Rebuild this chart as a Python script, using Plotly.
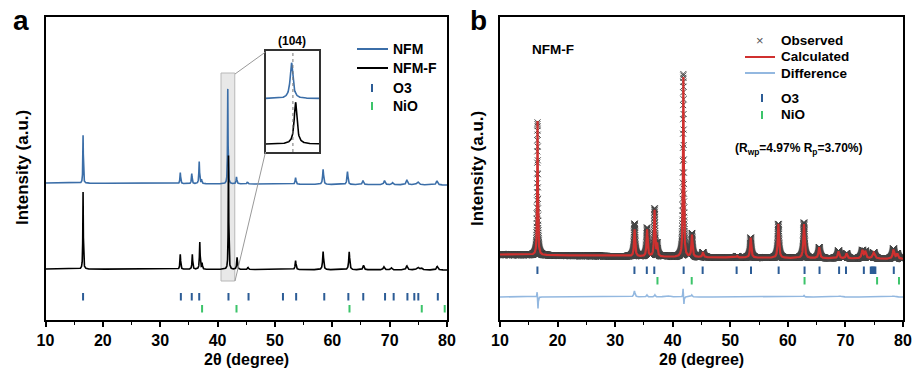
import numpy as np
import plotly.graph_objects as go

W, H = 916, 372
FONT = "Arial, Liberation Sans, sans-serif"

# ---------------- data ----------------
two_theta = np.round(np.arange(10, 80.0001, 0.01), 2)

# Panel a : NFM (blue) peak table  (position 2θ, intensity above background, HWHM)
nfm_pos = [16.55, 33.5, 35.5, 36.8, 37.2, 41.78, 43.3, 45.2, 53.6, 58.4, 62.65, 65.35, 69.1, 70.5, 73.0, 74.9, 78.25]
nfm_int = [48, 11, 10, 22, 4, 95, 7, 2, 6.5, 15, 13, 4, 4, 2, 5, 3, 4]
nfm_wid = [0.05, 0.07, 0.07, 0.07, 0.07, 0.05, 0.08, 0.09, 0.09, 0.1, 0.1, 0.12, 0.14, 0.14, 0.14, 0.22, 0.15]
nfm_bg_x = [10, 80]
nfm_bg_y = [137, 135]

# Panel a : NFM-F (black) peak table
nfmf_pos = [16.55, 33.5, 35.6, 36.9, 37.3, 41.90, 43.4, 45.3, 53.6, 58.4, 62.95, 65.45, 69.0, 70.3, 73.0, 74.9, 75.5, 78.3]
nfmf_int = [77, 15, 15, 27, 6, 114, 12, 2, 9, 18, 18, 4.5, 3, 2, 4, 2.5, 2, 3.5]
nfmf_wid = [0.05, 0.07, 0.07, 0.07, 0.07, 0.05, 0.08, 0.09, 0.09, 0.1, 0.1, 0.12, 0.14, 0.14, 0.14, 0.22, 0.17, 0.15]
nfmf_bg_x = [10, 80]
nfmf_bg_y = [51, 50]

# Panel a : reflection markers
a_o3_pos = [16.55, 33.6, 35.5, 36.8, 41.9, 45.4, 51.4, 53.7, 58.6, 62.8, 65.4, 69.2, 70.7, 73.1, 74.3, 75.0, 78.4]
a_nio_pos = [37.3, 43.3, 63.0, 75.6, 79.6]

# Panel b : calculated profile peak table
b_pos = [16.52, 33.38, 35.55, 36.85, 37.3, 41.85, 43.35, 45.25, 51.2, 53.55, 58.35, 62.8, 65.45, 68.8, 70.2, 72.95, 73.45, 74.9, 78.35, 79.0]
b_int = [134, 27, 27, 46, 12, 180, 22, 5, 1.5, 20, 34, 34, 11, 7, 5, 8, 7, 6, 9, 5]
b_wid = [0.07, 0.11, 0.11, 0.1, 0.1, 0.08, 0.11, 0.12, 0.12, 0.12, 0.12, 0.13, 0.14, 0.15, 0.15, 0.16, 0.16, 0.22, 0.16, 0.16]
b_bg_x = [10, 40, 80]
b_bg_y = [65.5, 63, 61]

# Panel b : difference curve features (position, signed amplitude, HWHM)
diff_pos = [16.45, 16.6, 33.35, 35.5, 36.9, 39.0, 41.8, 41.95, 43.3, 62.8, 69.0, 78.3]
diff_amp = [6, -12, 6, 2, 2, 1.5, 9, -8, 2, 1.5, 1, 1]
diff_wid = [0.05, 0.05, 0.12, 0.1, 0.1, 0.5, 0.05, 0.05, 0.1, 0.1, 0.3, 0.3]
diff_base = 23

# Panel b : reflection markers
b_o3_pos = [16.5, 33.35, 35.5, 36.8, 41.9, 45.2, 51.1, 53.6, 58.4, 62.9, 65.5, 68.9, 70.1, 73.2, 74.4, 74.6, 74.8, 75.0, 75.2, 78.4]
b_nio_pos = [37.35, 43.3, 62.9, 75.5, 79.3]

inset_range = [41.0, 42.6]
inset_ref = 41.82


def profile(pos, inten, wid, bgx, bgy):
    y = np.interp(two_theta, bgx, bgy).astype(float)
    for p, h, w in zip(pos, inten, wid):
        y += h / (1 + ((two_theta - p) / w) ** 2)
    return y


nfm = profile(nfm_pos, nfm_int, nfm_wid, nfm_bg_x, nfm_bg_y)
nfmf = profile(nfmf_pos, nfmf_int, nfmf_wid, nfmf_bg_x, nfmf_bg_y)
calc = profile(b_pos, b_int, b_wid, b_bg_x, b_bg_y)
diff = profile(diff_pos, diff_amp, diff_wid, [10, 80], [diff_base, diff_base])
obs = calc + (diff - diff_base)


def ticks(pos, y0, y1):
    xs, ys = [], []
    for p in pos:
        xs += [p, p, None]
        ys += [y0, y1, None]
    return xs, ys


BLUE = "#3b6ea8"
O3C = "#2c5c96"
NIOC = "#3cc46a"
RED = "#d0302f"
DIFFC = "#93b8e0"

fig = go.Figure()

# ---- panel a
fig.add_trace(go.Scatter(x=two_theta, y=nfm, mode="lines", line=dict(color=BLUE, width=1.6), xaxis="x", yaxis="y"))
fig.add_trace(go.Scatter(x=two_theta, y=nfmf, mode="lines", line=dict(color="black", width=1.6), xaxis="x", yaxis="y"))
tx, ty = ticks(a_o3_pos, 19.5, 27)
fig.add_trace(go.Scatter(x=tx, y=ty, mode="lines", line=dict(color=O3C, width=2), xaxis="x", yaxis="y"))
tx, ty = ticks(a_nio_pos, 7.5, 15)
fig.add_trace(go.Scatter(x=tx, y=ty, mode="lines", line=dict(color=NIOC, width=2), xaxis="x", yaxis="y"))

# ---- inset
m = (two_theta >= inset_range[0]) & (two_theta <= inset_range[1])
bg_a = np.interp(two_theta[m], nfm_bg_x, nfm_bg_y)
bg_b = np.interp(two_theta[m], nfmf_bg_x, nfmf_bg_y)
fig.add_trace(go.Scatter(x=two_theta[m], y=(nfm[m] - bg_a) * 0.38 + 54, mode="lines",
                         line=dict(color=BLUE, width=1.6), xaxis="x3", yaxis="y3"))
fig.add_trace(go.Scatter(x=two_theta[m], y=(nfmf[m] - bg_b) * 0.37 + 8, mode="lines",
                         line=dict(color="black", width=1.6), xaxis="x3", yaxis="y3"))

# ---- panel b
fig.add_trace(go.Scatter(x=two_theta, y=obs, mode="markers",
                         marker=dict(symbol="x-thin", size=6, line=dict(color="#444444", width=1)),
                         xaxis="x2", yaxis="y2"))
fig.add_trace(go.Scatter(x=two_theta, y=calc, mode="lines", line=dict(color=RED, width=2.2), xaxis="x2", yaxis="y2"))
fig.add_trace(go.Scatter(x=two_theta, y=diff, mode="lines", line=dict(color=DIFFC, width=1.6), xaxis="x2", yaxis="y2"))
tx, ty = ticks(b_o3_pos, 46, 53.5)
fig.add_trace(go.Scatter(x=tx, y=ty, mode="lines", line=dict(color=O3C, width=2), xaxis="x2", yaxis="y2"))
tx, ty = ticks(b_nio_pos, 35.5, 43)
fig.add_trace(go.Scatter(x=tx, y=ty, mode="lines", line=dict(color=NIOC, width=2), xaxis="x2", yaxis="y2"))


def px(x):
    return x / W


def py(y):
    return 1 - y / H


xa = dict(range=[10, 80], tickvals=list(range(10, 81, 10)), ticks="outside", ticklen=5, tickwidth=1.5,
          tickcolor="black", showline=True, linecolor="black", linewidth=1.6, mirror=True,
          tickfont=dict(family=FONT, size=16, color="black", weight="bold"),
          minor=dict(tickvals=list(range(15, 80, 10)), ticks="outside", ticklen=3, tickwidth=1.2, tickcolor="black"),
          showgrid=False, zeroline=False, automargin=False, fixedrange=True)
ya = dict(range=[0, 303], showticklabels=False, ticks="", showline=True, linecolor="black", linewidth=1.6,
          mirror=True, showgrid=False, zeroline=False, automargin=False)

fig.update_layout(
    width=W, height=H, margin=dict(l=0, r=0, t=0, b=0),
    paper_bgcolor="white", plot_bgcolor="white", showlegend=False,
    xaxis=dict(domain=[px(45.5), px(447)], anchor="y", **xa),
    yaxis=dict(domain=[py(320), py(17)], anchor="x", **ya),
    xaxis2=dict(domain=[px(500), px(903)], anchor="y2", **xa),
    yaxis2=dict(domain=[py(320), py(17)], anchor="x2", **ya),
    xaxis3=dict(domain=[px(265.5), px(319)], anchor="y3", range=inset_range, showticklabels=False, ticks="",
                showline=True, linecolor="#333", linewidth=1.5, mirror=True, showgrid=False, zeroline=False),
    yaxis3=dict(domain=[py(152), py(51)], anchor="x3", range=[0, 102], showticklabels=False, ticks="",
                showline=True, linecolor="#333", linewidth=1.5, mirror=True, showgrid=False, zeroline=False),
)

shapes = []
# shaded zoom window in panel a
shapes.append(dict(type="rect", xref="x", yref="y", x0=40.6, x1=43.0, y0=39, y1=247,
                   fillcolor="rgba(190,190,190,0.35)", line=dict(color="#b8b8b8", width=1), layer="below"))
# connector lines
shapes.append(dict(type="line", xref="paper", yref="paper", x0=px(235), y0=py(74), x1=px(265.5), y1=py(52),
                   line=dict(color="#999", width=1)))
shapes.append(dict(type="line", xref="paper", yref="paper", x0=px(235), y0=py(281), x1=px(265.5), y1=py(152),
                   line=dict(color="#999", width=1)))
# dotted reference line in inset
shapes.append(dict(type="line", xref="x3", yref="y3 domain", x0=inset_ref, x1=inset_ref, y0=0, y1=1,
                   line=dict(color="#777", width=1, dash="dot")))

# legend symbols panel a
leg_a = [("NFM", 49), ("NFM-F", 68), ("O3", 88), ("NiO", 106)]
shapes.append(dict(type="line", xref="paper", yref="paper", x0=px(357), x1=px(388), y0=py(49), y1=py(49),
                   line=dict(color=BLUE, width=2)))
shapes.append(dict(type="line", xref="paper", yref="paper", x0=px(357), x1=px(388), y0=py(68), y1=py(68),
                   line=dict(color="black", width=2)))
shapes.append(dict(type="line", xref="paper", yref="paper", x0=px(372), x1=px(372), y0=py(84), y1=py(92),
                   line=dict(color=O3C, width=2)))
shapes.append(dict(type="line", xref="paper", yref="paper", x0=px(372), x1=px(372), y0=py(102), y1=py(110),
                   line=dict(color=NIOC, width=2)))

# legend symbols panel b
shapes.append(dict(type="line", xref="paper", yref="paper", x0=px(745), x1=px(775), y0=py(57), y1=py(57),
                   line=dict(color=RED, width=2)))
shapes.append(dict(type="line", xref="paper", yref="paper", x0=px(745), x1=px(775), y0=py(73), y1=py(73),
                   line=dict(color=DIFFC, width=2)))
shapes.append(dict(type="line", xref="paper", yref="paper", x0=px(762), x1=px(762), y0=py(94), y1=py(102),
                   line=dict(color=O3C, width=2)))
shapes.append(dict(type="line", xref="paper", yref="paper", x0=px(762), x1=px(762), y0=py(111), y1=py(119),
                   line=dict(color=NIOC, width=2)))
fig.update_layout(shapes=shapes)


def ann(text, x, y, size=13, xanchor="left", color="black", angle=0, bold=True):
    return dict(text=text, x=px(x), y=py(y), xref="paper", yref="paper", showarrow=False,
                xanchor=xanchor, yanchor="middle", textangle=angle,
                font=dict(family=FONT, size=size, color=color, weight="bold" if bold else "normal"))


anns = [
    ann("a", 11, 21, size=28),
    ann("b", 468, 21, size=28),
    ann("Intensity (a.u.)", 22, 168, size=17, xanchor="center", angle=-90),
    ann("Intensity (a.u.)", 477, 168, size=17, xanchor="center", angle=-90),
    ann("2θ (degree)", 246, 359, size=16, xanchor="center"),
    ann("2θ (degree)", 701, 359, size=16, xanchor="center"),
    ann("(104)", 292, 41, size=12, xanchor="center"),
]
for t, y in leg_a:
    anns.append(ann(t, 391, y, size=14))
anns += [
    ann("×", 760, 40, size=13, xanchor="center", color="#555", bold=False),
    ann("Observed", 779, 40, size=13.5),
    ann("Calculated", 779, 57, size=13.5),
    ann("Difference", 779, 73, size=13.5),
    ann("O3", 779, 98, size=13.5),
    ann("NiO", 779, 115, size=13.5),
    ann("NFM-F", 530, 49, size=13.5),
    ann("(R<sub>wp</sub>=4.97% R<sub>p</sub>=3.70%)", 799, 149, size=12, xanchor="center"),
]
fig.update_layout(annotations=anns)

fig.write_html("out.html")
